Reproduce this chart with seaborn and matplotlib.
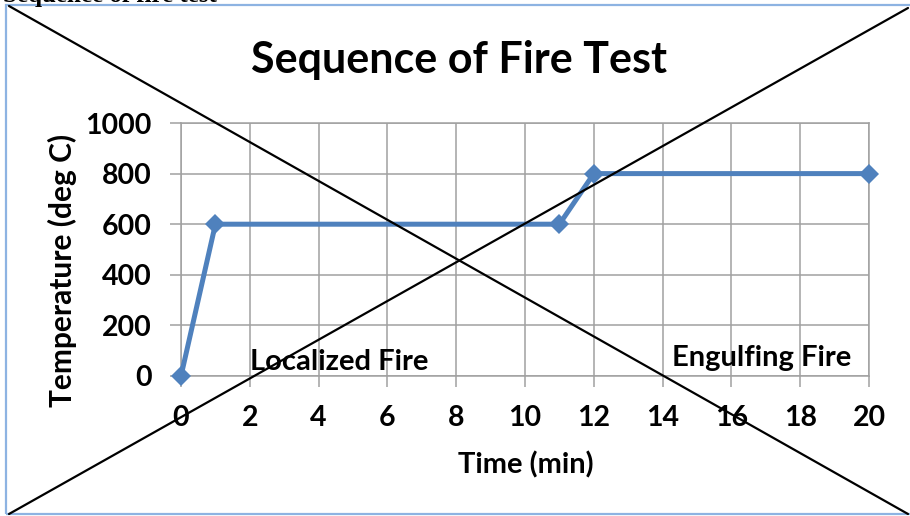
import matplotlib
matplotlib.use('Agg')
import matplotlib.pyplot as plt
import seaborn as sns
import pandas as pd
from matplotlib.lines import Line2D
from matplotlib.patches import Rectangle

# chart data
time_min = [0, 1, 11, 12, 20]
temp_c = [0, 600, 600, 800, 800]
x_ticks = list(range(0, 21, 2))
y_ticks = list(range(0, 1001, 200))
phase_labels = ['Localized Fire', 'Engulfing Fire']

sns.set_theme(style='white')
plt.rcParams['font.family'] = ['Lato', 'DejaVu Sans']
plt.rcParams['font.weight'] = 'bold'
plt.rcParams['text.color'] = 'black'

W, H = 910, 516
fig = plt.figure(figsize=(W / 100, H / 100), dpi=100)
fig.patch.set_facecolor('white')

ax = fig.add_axes([181 / W, 1 - 376 / H, 688 / W, 253 / H])
df = pd.DataFrame({'Time': time_min, 'Temp': temp_c})
sns.lineplot(data=df, x='Time', y='Temp', ax=ax, color='#4F81BD', linewidth=3.6,
             marker='D', markersize=10, markeredgewidth=0, clip_on=False, zorder=3)

ax.set_xlim(0, 20)
ax.set_ylim(0, 1000)
ax.set_xticks(x_ticks)
ax.set_yticks(y_ticks)
ax.set_xlabel('')
ax.set_ylabel('')
grid_c = '#A0A0A0'
ax.grid(True, color=grid_c, linewidth=1.1)
for s in ax.spines.values():
    s.set_color(grid_c)
    s.set_linewidth(1.1)
ax.tick_params(axis='both', bottom=True, left=True, direction='out', length=8,
               width=1.1, color=grid_c, labelsize=20.5, labelcolor='black')
ax.tick_params(axis='y', pad=13)
ax.tick_params(axis='x', pad=13)

ax.text(2, 57, phase_labels[0], ha='left', va='center', fontsize=21, zorder=2)
# the second label is cut off just under its baseline, as in the source
t2 = ax.text(14.27, 40, phase_labels[1], ha='left', va='baseline', fontsize=21, zorder=2)
clip = Rectangle((0, 1 - 365 / H), 1, 365 / H, transform=fig.transFigure)
t2.set_clip_path(clip)

fig.text(459 / W, 1 - 60 / H, 'Sequence of Fire Test', ha='center', va='center', fontsize=31)
fig.text(62 / W, 1 - 270 / H, 'Temperature (deg C)', ha='center', va='center',
         rotation=90, fontsize=21.5)
fig.text(526 / W, 1 - 465 / H, 'Time (min)', ha='center', va='center', fontsize=21)

# clipped caption above the frame
fig.text(3 / W, 1 - 2 / H, 'Sequence of fire test', ha='left', va='baseline',
         fontsize=18, family='Liberation Serif', fontweight='bold')

# frame and crossing lines
fig.add_artist(Rectangle((6 / W, 1 - 514 / H), 910 / W, 509 / H, transform=fig.transFigure,
                         fill=False, edgecolor='#8DB3E2', linewidth=1.6))
fig.add_artist(Line2D([9 / W, 908 / W], [1 - 6 / H, 1 - 514 / H], transform=fig.transFigure,
                      color='black', linewidth=1.6, zorder=10))
fig.add_artist(Line2D([9 / W, 908 / W], [1 - 514 / H, 1 - 8 / H], transform=fig.transFigure,
                      color='black', linewidth=1.6, zorder=10))

fig.savefig('out.png', dpi=100)
